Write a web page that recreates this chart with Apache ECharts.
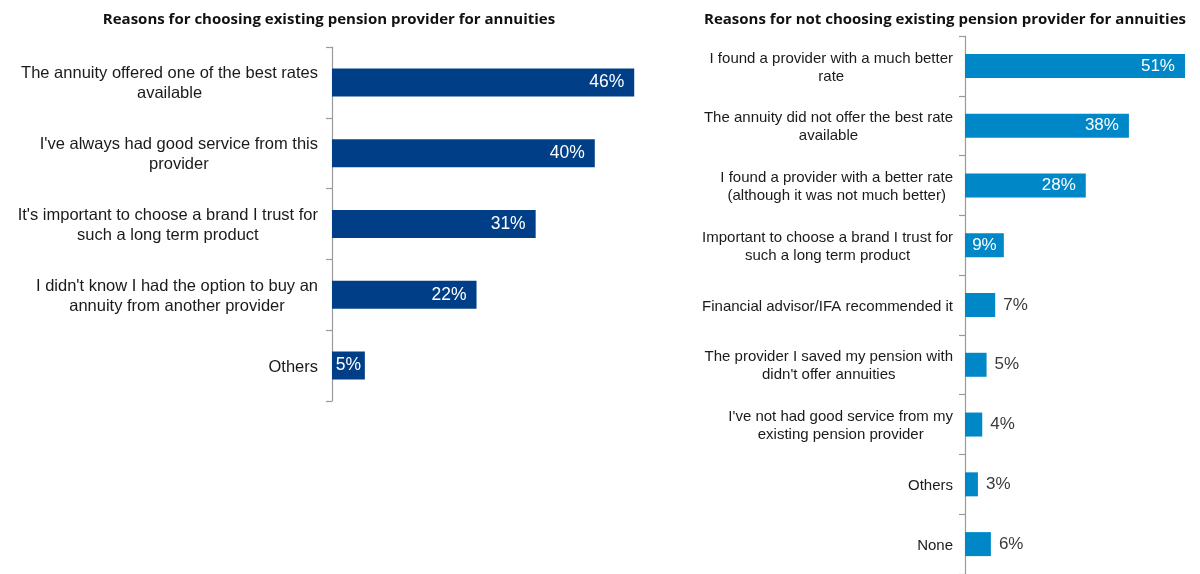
<!DOCTYPE html>
<html>
<head>
<meta charset="utf-8">
<script src="https://cdn.jsdelivr.net/npm/echarts@6/dist/echarts.min.js"></script>
<style>
  html, body { margin: 0; padding: 0; background: #ffffff; }
  #chart { width: 1200px; height: 574px; }
</style>
</head>
<body>
<div id="chart"></div>
<script>
// Reasons for choosing the existing provider (%)
const chooseTitle = 'Reasons for choosing existing pension provider for annuities';
const chooseReasons = [
  'The annuity offered one of the best rates\navailable',
  "I've always had good service from this\nprovider",
  "It's important to choose a brand I trust for\nsuch a long term product",
  "I didn't know I had the option to buy an\nannuity from another provider",
  'Others'
];
const chooseValues = [46, 40, 31, 22, 5];

// Reasons for not choosing the existing provider (%)
const notChooseTitle = 'Reasons for not choosing existing pension provider for annuities';
const notChooseReasons = [
  'I found a provider with a much better\nrate',
  'The annuity did not offer the best rate\navailable',
  'I found a provider with a better rate\n(although it was not much better)',
  'Important to choose a brand I trust for\nsuch a long term product',
  'Financial advisor/IFA recommended it',
  'The provider I saved my pension with\ndidn\'t offer annuities',
  "I've not had good service from my\nexisting pension provider",
  'Others',
  'None'
];
const notChooseValues = [51, 38, 28, 9, 7, 5, 4, 3, 6];

const LABEL_FONT = 'Liberation Sans';
const TITLE_FONT = 'Open Sans';

// Each line of a category label is centred within its block,
// while the block itself sits right-aligned against the axis.
function centredLines(text) {
  return text.split('\n').map(l => '{c|' + l + '}').join('\n');
}

function categoryAxis(gridIndex, cats, fontSize, lineHeight, margin) {
  return {
    type: 'category',
    gridIndex: gridIndex,
    data: cats,
    inverse: true,
    axisLine: { show: true, lineStyle: { color: '#9a9a9a', width: 1.2 } },
    axisTick: { show: true, length: 6, lineStyle: { color: '#9a9a9a', width: 1.2 } },
    axisLabel: {
      margin: margin,
      color: '#1a1a1a',
      fontFamily: LABEL_FONT,
      fontSize: fontSize,
      lineHeight: lineHeight,
      padding: [3, 0, 0, 0],
      formatter: centredLines,
      rich: {
        c: {
          align: 'center',
          color: '#1a1a1a',
          fontFamily: LABEL_FONT,
          fontSize: fontSize,
          lineHeight: lineHeight
        }
      }
    }
  };
}

function valueAxis(gridIndex, max) {
  return {
    type: 'value',
    gridIndex: gridIndex,
    min: 0,
    max: max,
    show: false,
    splitLine: { show: false }
  };
}

// Short bars carry their value outside in dark grey; longer bars inside in white,
// centred when the bar is only just wide enough for it.
function barData(values, insideFrom, fontSize) {
  return values.map(v => {
    let label;
    if (v < insideFrom) {
      label = { position: 'right', distance: 8, color: '#3a3a3a' };
    } else if (v < 10) {
      label = { position: 'inside', color: '#ffffff' };
    } else {
      label = { position: 'insideRight', distance: 10, color: '#ffffff' };
    }
    label.fontSize = fontSize;
    label.fontFamily = LABEL_FONT;
    return { value: v, label: label };
  });
}

const chart = echarts.init(document.getElementById('chart'), null, { renderer: 'canvas' });

chart.setOption({
  backgroundColor: '#ffffff',
  animation: false,
  title: [
    {
      text: chooseTitle,
      left: 324,
      top: 7,
      textAlign: 'center',
      textStyle: { fontFamily: TITLE_FONT, fontWeight: 'bold', fontSize: 15, color: '#111111' }
    },
    {
      text: notChooseTitle,
      left: 940,
      top: 7,
      textAlign: 'center',
      textStyle: { fontFamily: TITLE_FONT, fontWeight: 'bold', fontSize: 15, color: '#111111' }
    }
  ],
  grid: [
    { left: 332, top: 47, width: 328.5, height: 354 },
    { left: 965, top: 36, width: 224.3, height: 540 }
  ],
  xAxis: [valueAxis(0, 50), valueAxis(1, 52)],
  yAxis: [
    categoryAxis(0, chooseReasons, 16.5, 20, 14),
    categoryAxis(1, notChooseReasons, 15, 18, 12)
  ],
  series: [
    {
      type: 'bar',
      xAxisIndex: 0,
      yAxisIndex: 0,
      barWidth: 28,
      data: barData(chooseValues, 0, 17.5),
      itemStyle: { color: '#003f87' },
      label: { show: true, formatter: p => p.value + '%' }
    },
    {
      type: 'bar',
      xAxisIndex: 1,
      yAxisIndex: 1,
      barWidth: 24,
      data: barData(notChooseValues, 9, 17),
      itemStyle: { color: '#0087c8' },
      label: { show: true, formatter: p => p.value + '%' }
    }
  ]
});
</script>
</body>
</html>
